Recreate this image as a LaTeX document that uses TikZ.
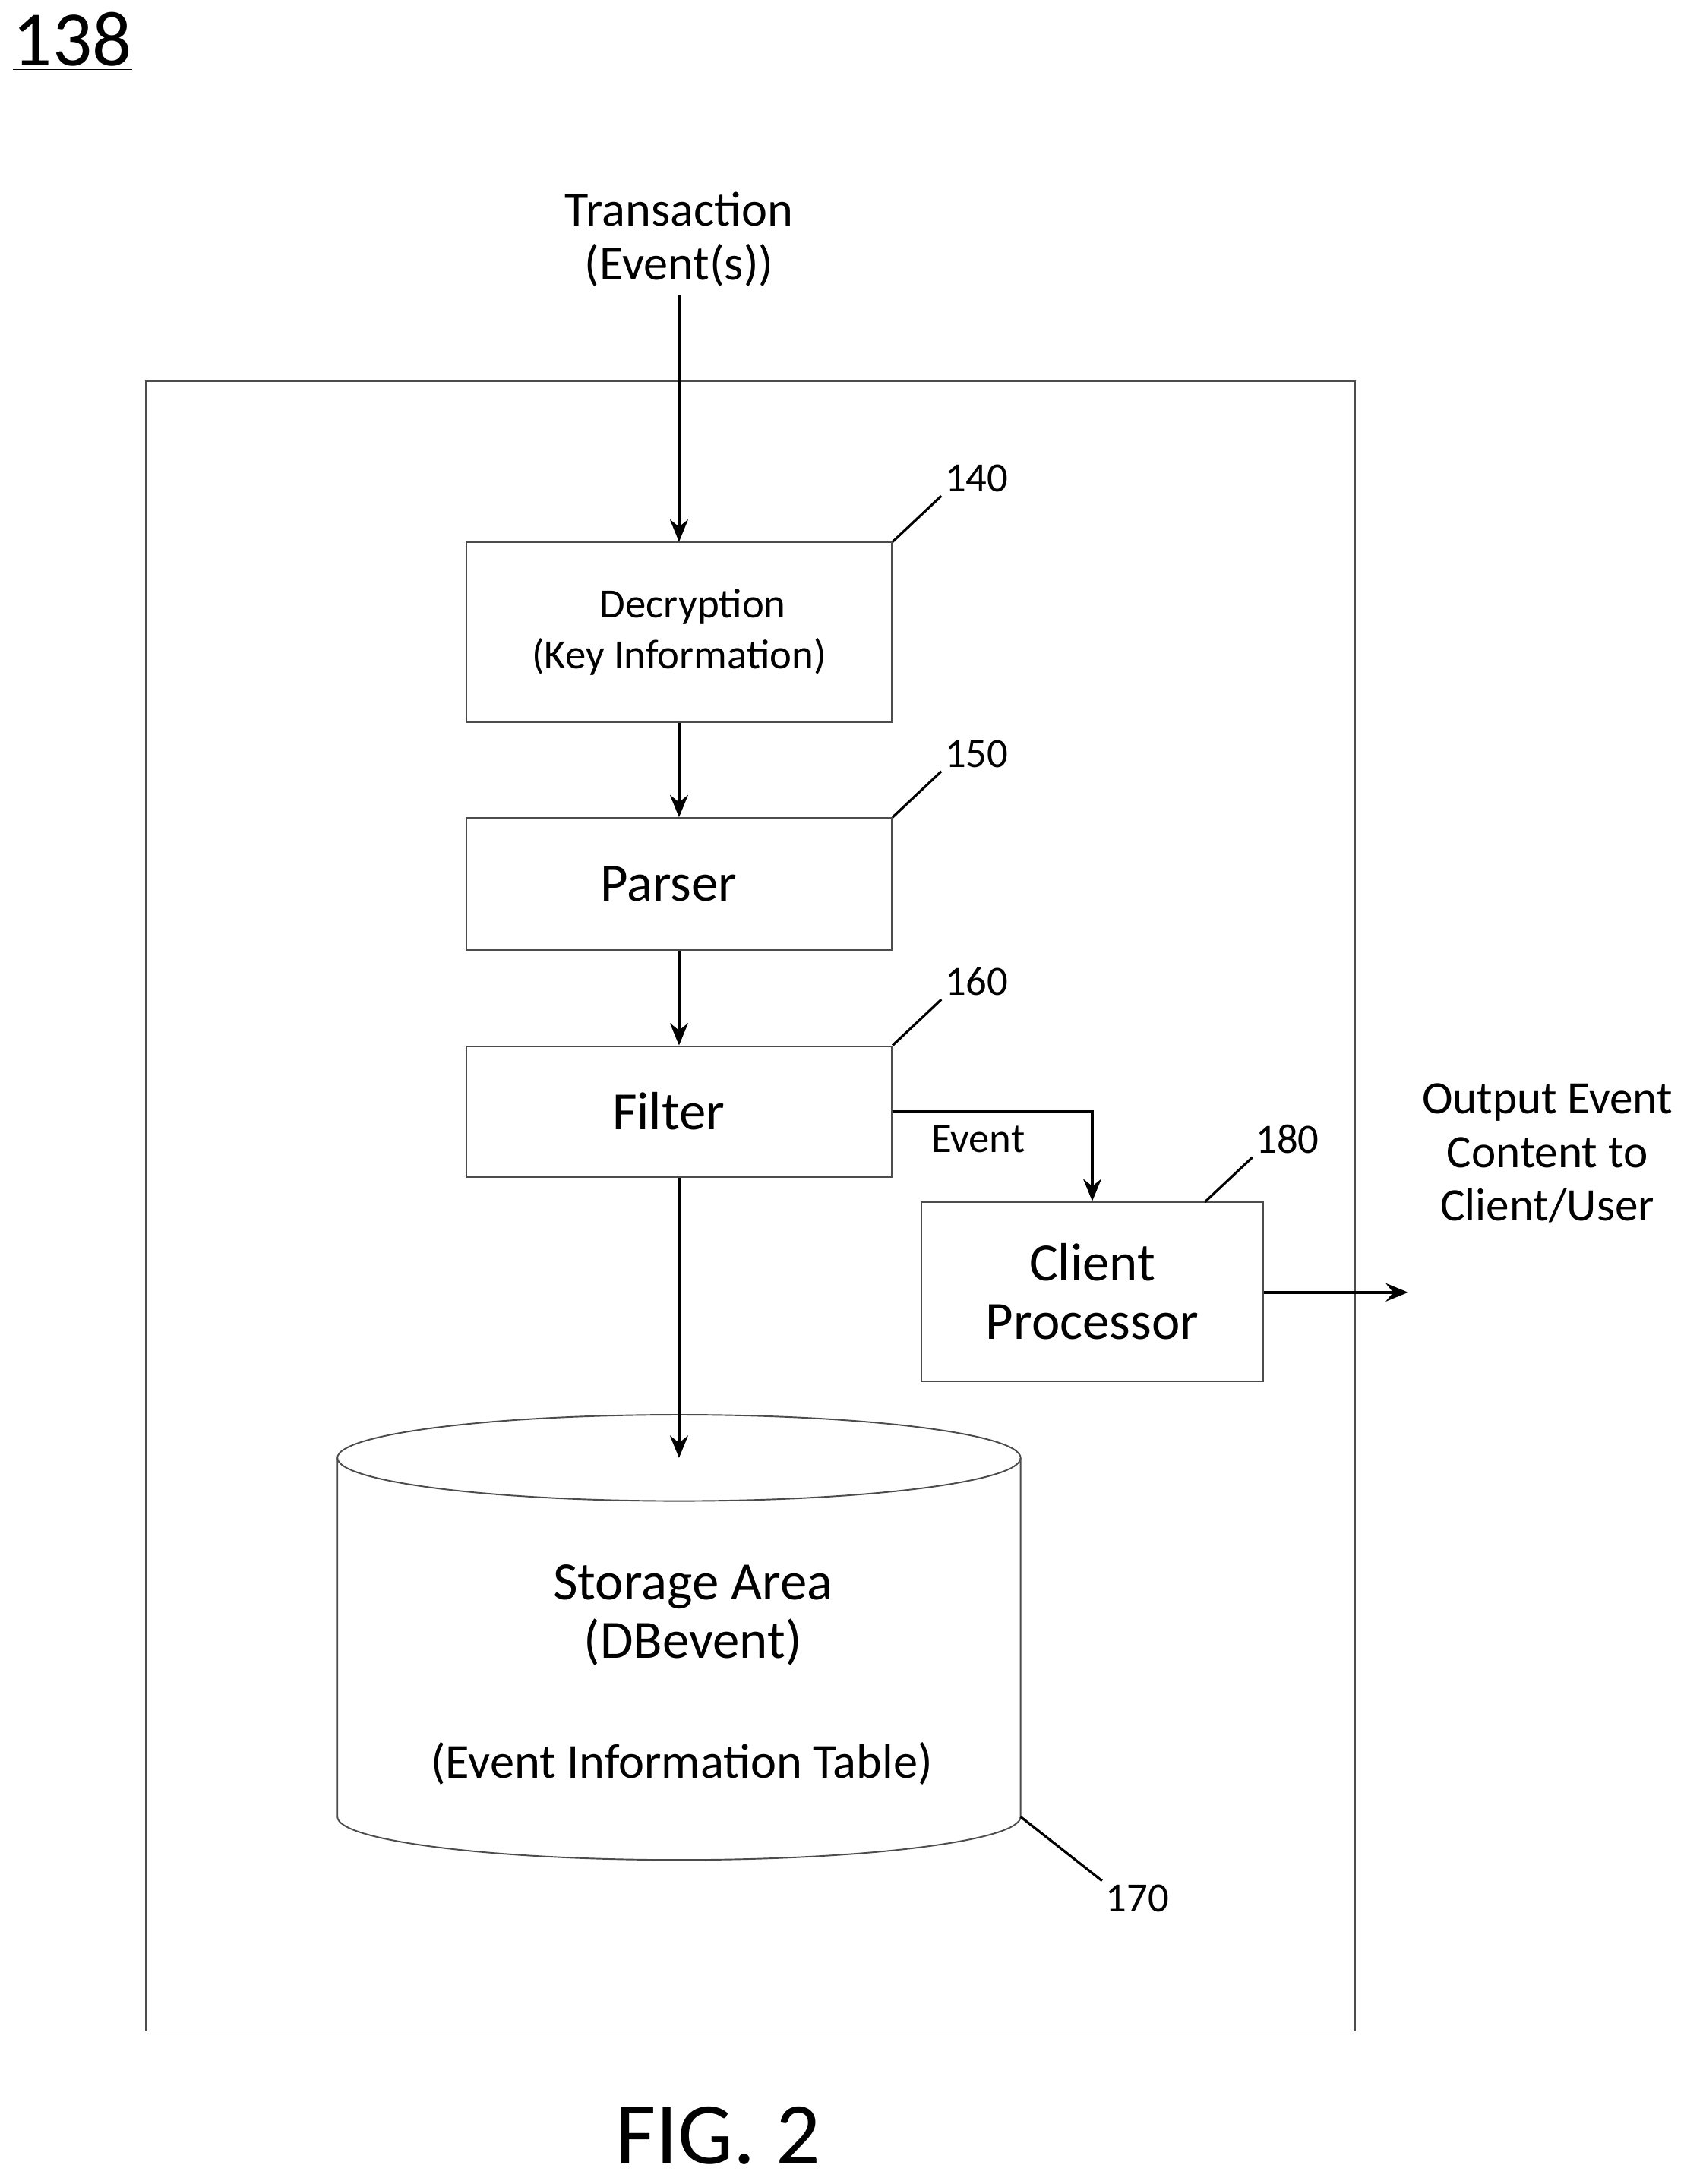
\documentclass[tikz,border=0pt]{standalone}
\usepackage{fontspec}
\setmainfont{Carlito}
\usetikzlibrary{arrows.meta,positioning}
\tikzset{
  blk/.style={draw=black!70,line width=0.6pt,minimum width=6.12cm,align=center},
  flow/.style={-{Stealth[length=3.2mm,width=2.6mm]},line width=1.2pt},
  lead/.style={line width=1pt},
  refnum/.style={font=\fontsize{17}{17}\selectfont}
}
\begin{document}
\begin{tikzpicture}[x=0.02cm,y=-0.02cm]
\useasboundingbox (0,0) rectangle (1210,1570);

% frame and titles
\draw[black!70,line width=0.6pt] (105,274) rectangle (974,1460);
\node[font=\fontsize{32}{32}\selectfont] (fignum) at (52,30) {\underline{138}};
\node[font=\fontsize{36}{36}\selectfont] (figcap) at (516,1535) {FIG. 2};

% blocks
\node[blk,minimum height=2.58cm,font=\fontsize{17}{21}\selectfont] (dec) at (488,454.5) {\hspace*{0.4cm}Decryption\\(Key Information)};
\node[blk,minimum height=1.9cm,font=\fontsize{22}{22}\selectfont] (par) at (488,635.5) {\hspace*{-0.3cm}Parser};
\node[blk,minimum height=1.88cm,font=\fontsize{22}{22}\selectfont] (fil) at (488,799) {\hspace*{-0.3cm}Filter};
\node[blk,minimum width=4.92cm,minimum height=2.58cm,font=\fontsize{22}{24}\selectfont] (cli) at (785,928.5) {Client\\Processor};

% storage cylinder
\draw[black!70,line width=0.6pt] (488,1048) ellipse [x radius=245.5,y radius=31];
\draw[black!70,line width=0.6pt] (242.5,1048) -- (242.5,1306)
  arc[start angle=180,end angle=0,x radius=245.5,y radius=31] -- (733.5,1048);
\coordinate (dbtop) at (488,1048);
\node[font=\fontsize{22}{24}\selectfont,align=center] (db) at (498,1161) {Storage Area\\(DBevent)};
\node[font=\fontsize{20}{20}\selectfont] (dbtab) at (490,1268) {(Event Information Table)};

% texts outside
\node[font=\fontsize{20}{22}\selectfont,align=center,anchor=south] (txn) at (488,212) {Transaction\\(Event(s))};
\node[font=\fontsize{19}{22}\selectfont,align=center] (out) at (1112,829) {Output Event\\Content to\\Client/User};
\coordinate (outend) at (1012,929);

% connectors
\draw[flow] (txn) -- (dec);
\draw[flow] (dec) -- (par);
\draw[flow] (par) -- (fil);
\draw[flow] (fil) -- (dbtop);
\draw[flow] (fil.east |- 0,799) -| (cli.north);
\node[font=\fontsize{17}{17}\selectfont] (evt) at (703,819) {Event};
\draw[flow] (cli.east |- 0,929) -- (outend);

% reference numerals
\draw[lead] (dec.north east) -- ++(35,-33) node[refnum,anchor=south west,inner sep=1pt] (n140) {140};
\draw[lead] (par.north east) -- ++(35,-33) node[refnum,anchor=south west,inner sep=1pt] (n150) {150};
\draw[lead] (fil.north east) -- ++(35,-33) node[refnum,anchor=south west,inner sep=1pt] (n160) {160};
\draw[lead] (866,864) -- ++(34,-32) node[refnum,anchor=south west,inner sep=1pt] (n180) {180};
\draw[lead] (733.5,1306) -- (792,1352) node[refnum,anchor=north west,inner sep=1pt] (n170) {170};
\end{tikzpicture}
\end{document}
